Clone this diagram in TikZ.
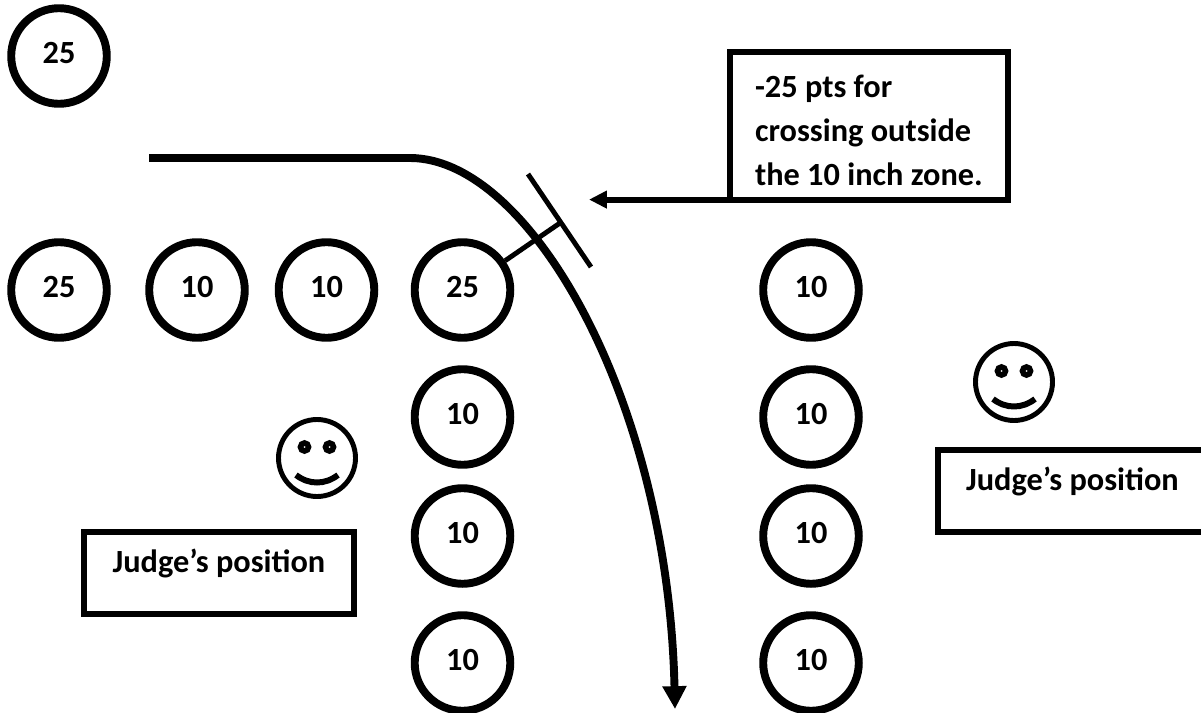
\documentclass[tikz,border=0pt]{standalone}
\usepackage{fontspec}
\setmainfont{Carlito}
\usetikzlibrary{
    arrows.meta,
    positioning
}
\tikzset{
    % Targets
    target/.style={circle,draw=black,line width=4.5pt,minimum size=54.4pt,inner sep=0pt,text depth=3.4pt,font=\fontsize{18.4}{22}\selectfont\bfseries},
    % Boxes
    label box/.style={draw=black,line width=3.4pt,inner sep=0pt,outer sep=0pt,anchor=north west,font=\fontsize{18.4}{25}\selectfont\bfseries},
    judge box/.style={label box,minimum height=46.5pt,text depth=14pt},
    % Lines
    zone line/.style={line width=2.8pt},
    % Arrows
    path arr/.style={line width=4.5pt,-{Triangle[length=13pt,width=13pt]}},
    note arr/.style={line width=3.4pt,-{Triangle[length=10.2pt,width=9.6pt]}},
}
\begin{document}
\begin{tikzpicture}[x=.02cm,y=-.02cm]
        \useasboundingbox (0,0) rectangle (1201,713);
        % targets
        \node[target] (ttop) at (59,56) {25};
        \foreach \name/\x/\y/\pts in {a/59/290/25,b/197/290/10,c/326.5/290/10,d/462.5/290/25,e/462.5/417/10,f/462.5/536/10,g/462.5/663/10,h/811/290/10,i/811/417/10,j/811/536/10,k/811/663/10} {
            \node[target] (t\name) at (\x,\y) {\pts};
        }
        % boxes
        \node[label box,minimum width=158.1pt,minimum height=84pt,align=left,text height=67.7pt] (warning) at (730,52) {-25 pts for\\crossing outside\\the 10 inch zone.};
        \node[judge box,minimum width=153pt] (judgeright) at (938,450) {Judge’s position};
        \node[judge box,minimum width=153.6pt] (judgeleft) at (84,532) {Judge’s position};
        % smileys
        \foreach \x/\y in {1014/382,317/458} {
            \begin{scope}[shift={(\x,\y)}]
                \draw[line width=2.8pt] (0,0) circle (38.5);
                \draw[line width=3.2pt] (-12.5,-11) circle (4) (12.5,-11) circle (4);
                \draw[line width=3.4pt] (-21,17) .. controls (-8,27) and (8,27) .. (21,17);
            \end{scope}
        }
        % zone marker
        \coordinate (bar top) at (528,174);
        \coordinate (bar bottom) at (591,267);
        \coordinate (bar mid) at (560,223);
        \draw[zone line] (bar top) -- (bar bottom);
        \draw[zone line] (td) -- (bar mid);
        % driving path
        \coordinate (path start) at (149,158);
        \coordinate (path bend) at (410,158);
        \coordinate (path end) at (675,709);
        \draw[path arr] (path start) -- (path bend) .. controls (530,158) and (668,400) .. (path end);
        \coordinate[left=2.82cm of warning.south west] (note tip);
        \draw[note arr] (warning.south west) -- (note tip);
\end{tikzpicture}
\end{document}
